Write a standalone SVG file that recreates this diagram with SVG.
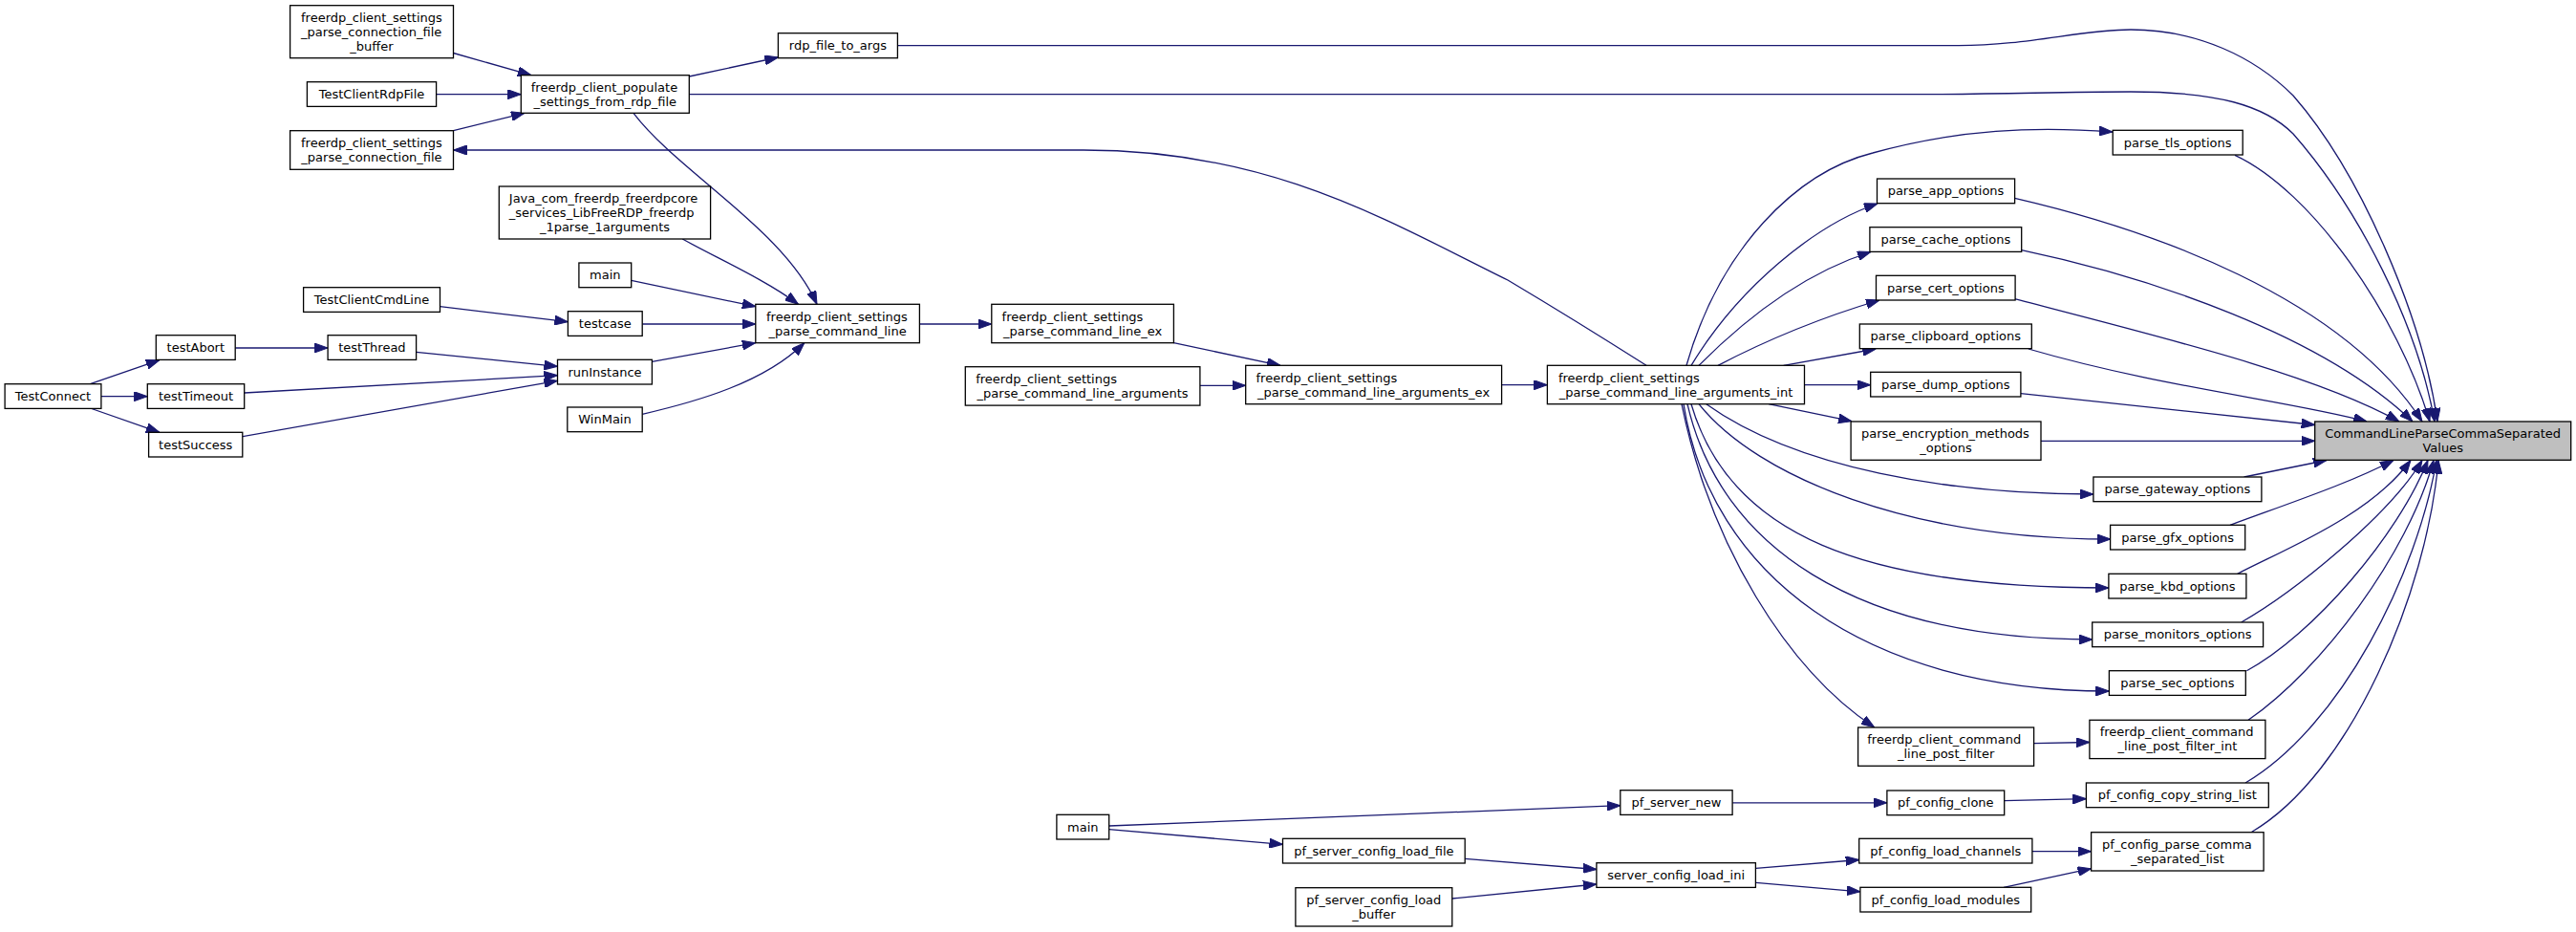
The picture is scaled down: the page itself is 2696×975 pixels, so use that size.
<svg xmlns="http://www.w3.org/2000/svg" width="2696" height="975" viewBox="0 0 2696 975">
<style>
.node rect{fill:#fff;stroke:#000;stroke-width:1.3}
.node.hl rect{fill:#bfbfbf}
.node text{font-family:"DejaVu Sans",sans-serif;font-size:13px;fill:#000}
.node text.c{text-anchor:middle}
.e path{fill:none;stroke:#191970;stroke-width:1.3;marker-end:url(#ah)}
</style>
<defs>
<marker id="ah" markerUnits="userSpaceOnUse" markerWidth="14" markerHeight="10" viewBox="0 0 14 10" refX="14" refY="5" orient="auto"><path d="M0,0L14,5L0,10z" fill="#191970" stroke="#191970" stroke-width="1"/></marker>
</defs>
<rect width="2696" height="975" fill="#fff"/>
<g class="e" id="connectors">
<path d="M474.5,55.5 L556,78.7"/>
<path d="M456.6,98.7 L545.3,98.7"/>
<path d="M474.5,136.7 L549,118.3"/>
<path d="M721.3,80 L814.4,60"/>
<path d="M721.3,98.7 L2000,98.7 C2100,98.7 2150,96 2230,96 C2320,96 2370,110 2400,140 C2470,220 2530,340 2548,441"/>
<path d="M939.4,47.7 L2050,47.7 C2120,47.7 2180,31 2230,31 C2300,31 2360,60 2400,100 C2470,180 2535,330 2551,441"/>
<path d="M1723,382.3 C1680,355 1620,318 1578,293 C1450,230 1330,157 1134,157 L474.5,157"/>
<path d="M663,118.3 C710,180 820,240 855,318.3"/>
<path d="M714.3,250 C750,270 800,292 835.5,318.3"/>
<path d="M660.7,293.3 L790.8,320.7"/>
<path d="M460.5,320.7 L594.4,336.7"/>
<path d="M672.2,339 L790.8,339"/>
<path d="M682.4,378.3 L790.8,358.7"/>
<path d="M672.2,433.3 C730,420 800,400 841.8,358.7"/>
<path d="M246.2,364 L343.1,364"/>
<path d="M435.6,368.3 L583.5,383.3"/>
<path d="M94.4,401.7 L167,376.7"/>
<path d="M105.9,414.7 L154.3,414.7"/>
<path d="M94.4,427 L167,452.3"/>
<path d="M255.7,411 L583.5,392.7"/>
<path d="M253.8,456.7 L583.5,398.3"/>
<path d="M962.4,339 L1037.8,339"/>
<path d="M1228.4,358.7 L1340,382.3"/>
<path d="M1255.9,403.3 L1303.7,403.3"/>
<path d="M1571.6,402.7 L1619.4,402.7"/>
<path d="M1765,382.3 C1800,260 1880,180 1960,160 C2050,135 2130,132 2211,138"/>
<path d="M1770,382.3 C1820,300 1900,235 1965,213"/>
<path d="M1778,382.3 C1830,330 1890,285 1958,263.5"/>
<path d="M1798,382.3 C1860,350 1920,328 1967,314"/>
<path d="M1866.7,382.3 L1963.3,365"/>
<path d="M1889,402.7 L1957.7,402.7"/>
<path d="M1851,422.7 L1938,440.7"/>
<path d="M1785.8,422.7 C1880,490 2040,517 2191,517"/>
<path d="M1778,422.7 C1840,500 2000,564 2209,564"/>
<path d="M1770,422.7 C1810,560 1950,615 2207,615"/>
<path d="M1766,422.7 C1800,570 1940,669 2190,669"/>
<path d="M1762,422.7 C1790,600 1950,723 2207.4,723"/>
<path d="M1760,422.7 C1790,570 1870,700 1961.8,761"/>
<path d="M2339,162.3 C2420,200 2510,330 2543,441"/>
<path d="M2108.6,207.3 C2250,240 2450,310 2535,441"/>
<path d="M2115.7,261.7 C2250,290 2430,350 2525,441"/>
<path d="M2108.6,312.7 C2250,350 2420,390 2511,441"/>
<path d="M2122.9,365 C2260,405 2400,420 2477,441"/>
<path d="M2114.9,411.7 L2422.7,444.5"/>
<path d="M2136,461.3 L2422.7,461.3"/>
<path d="M2348.6,499 L2435,481.5"/>
<path d="M2334,549.3 C2400,525 2460,505 2505,481.5"/>
<path d="M2341.7,600.3 C2390,575 2480,540 2523,481.5"/>
<path d="M2345.7,651 C2400,620 2500,540 2535,481.5"/>
<path d="M2351.4,701.7 C2420,665 2510,560 2541,481.5"/>
<path d="M2353,753.3 C2430,700 2520,580 2547,481.5"/>
<path d="M2350,819 C2450,760 2530,600 2550,481.5"/>
<path d="M2356,870.7 C2460,810 2540,620 2552,481.5"/>
<path d="M2128.6,777.7 L2186.9,776.5"/>
<path d="M1160.7,864 L1695.8,842.7"/>
<path d="M1160.7,867.7 L1342.5,883.3"/>
<path d="M1813.1,839.8 L1974.9,839.8"/>
<path d="M2097.7,837.7 L2183.4,835.7"/>
<path d="M1533.2,898.3 L1670.9,909.5"/>
<path d="M1519.8,940 L1670.9,925"/>
<path d="M1837.7,908.3 L1945.7,899.5"/>
<path d="M1837.7,923.3 L1946.9,932.8"/>
<path d="M2126.9,890.7 L2188.6,890.7"/>
<path d="M2097,928.3 L2188.6,908.7"/>
</g>
<g class="node" id="n_buf"><rect x="303.6" y="5.7" width="170.9" height="55"/><text x="315" y="22.7">freerdp_client_settings</text><text x="315" y="37.7">_parse_connection_file</text><text class="c" x="389" y="52.7">_buffer</text></g>
<g class="node" id="n_rdpfile"><rect x="321.4" y="85.7" width="135.2" height="25.7"/><text class="c" x="389" y="103">TestClientRdpFile</text></g>
<g class="node" id="n_pcf"><rect x="303.6" y="136.7" width="170.9" height="40.6"/><text x="315" y="154">freerdp_client_settings</text><text class="c" x="389" y="169">_parse_connection_file</text></g>
<g class="node" id="n_populate"><rect x="545.3" y="78.7" width="176" height="39.6"/><text x="555.8" y="95.5">freerdp_client_populate</text><text class="c" x="633.3" y="110.5">_settings_from_rdp_file</text></g>
<g class="node" id="n_rdp2args"><rect x="814.4" y="34.7" width="125" height="26"/><text class="c" x="876.9" y="52.2">rdp_file_to_args</text></g>
<g class="node" id="n_java"><rect x="522.3" y="195" width="221.3" height="55"/><text x="532.8" y="212">Java_com_freerdp_freerdpcore</text><text x="532.8" y="227">_services_LibFreeRDP_freerdp</text><text class="c" x="633" y="242">_1parse_1arguments</text></g>
<g class="node" id="n_main1"><rect x="605.9" y="275" width="54.8" height="25.7"/><text class="c" x="633.3" y="292.3">main</text></g>
<g class="node" id="n_tccl"><rect x="317.6" y="300.7" width="142.9" height="25.7"/><text class="c" x="389" y="318">TestClientCmdLine</text></g>
<g class="node" id="n_testcase"><rect x="594.4" y="325.7" width="77.8" height="25.7"/><text class="c" x="633.3" y="343">testcase</text></g>
<g class="node" id="n_pcl"><rect x="790.8" y="318.3" width="171.6" height="40.4"/><text x="802" y="335.5">freerdp_client_settings</text><text class="c" x="876.6" y="350.5">_parse_command_line</text></g>
<g class="node" id="n_testAbort"><rect x="163.3" y="350.7" width="82.9" height="25.7"/><text class="c" x="204.8" y="368">testAbort</text></g>
<g class="node" id="n_testThread"><rect x="343.1" y="350.7" width="92.5" height="25.7"/><text class="c" x="389.4" y="368">testThread</text></g>
<g class="node" id="n_runInstance"><rect x="583.5" y="376.3" width="98.9" height="25.7"/><text class="c" x="633" y="393.7">runInstance</text></g>
<g class="node" id="n_TestConnect"><rect x="5.1" y="401.7" width="100.8" height="25.7"/><text class="c" x="55.5" y="419">TestConnect</text></g>
<g class="node" id="n_testTimeout"><rect x="154.3" y="401.7" width="101.4" height="25.7"/><text class="c" x="205" y="419">testTimeout</text></g>
<g class="node" id="n_testSuccess"><rect x="155.6" y="452.3" width="98.2" height="25.7"/><text class="c" x="204.7" y="469.7">testSuccess</text></g>
<g class="node" id="n_WinMain"><rect x="593.8" y="426" width="78.4" height="25.7"/><text class="c" x="633" y="443.4">WinMain</text></g>
<g class="node" id="n_pclex"><rect x="1037.8" y="318.3" width="190.6" height="40.4"/><text x="1048.6" y="335.5">freerdp_client_settings</text><text class="c" x="1133.1" y="350.5">_parse_command_line_ex</text></g>
<g class="node" id="n_pcla"><rect x="1010.3" y="383.7" width="245.6" height="40.4"/><text x="1021.2" y="400.9">freerdp_client_settings</text><text class="c" x="1133.1" y="415.9">_parse_command_line_arguments</text></g>
<g class="node" id="n_argsex"><rect x="1303.7" y="382.3" width="267.9" height="40.4"/><text x="1314.5" y="399.5">freerdp_client_settings</text><text class="c" x="1437.6" y="414.5">_parse_command_line_arguments_ex</text></g>
<g class="node" id="n_argsint"><rect x="1619.4" y="382.3" width="269.1" height="40.4"/><text x="1630.9" y="399.5">freerdp_client_settings</text><text class="c" x="1754" y="414.5">_parse_command_line_arguments_int</text></g>
<g class="node" id="n_tls"><rect x="2211.2" y="136.3" width="136" height="25.7"/><text class="c" x="2279.2" y="153.7">parse_tls_options</text></g>
<g class="node" id="n_app"><rect x="1964.5" y="187" width="144.1" height="25.7"/><text class="c" x="2036.5" y="204.3">parse_app_options</text></g>
<g class="node" id="n_cache"><rect x="1956.9" y="237.7" width="158.8" height="25.7"/><text class="c" x="2036.3" y="255">parse_cache_options</text></g>
<g class="node" id="n_cert"><rect x="1963.5" y="288.3" width="145.6" height="25.7"/><text class="c" x="2036.3" y="305.6">parse_cert_options</text></g>
<g class="node" id="n_clip"><rect x="1946.3" y="339" width="180" height="25.7"/><text class="c" x="2036.3" y="356.3">parse_clipboard_options</text></g>
<g class="node" id="n_dump"><rect x="1957.7" y="389.3" width="157.2" height="25.7"/><text class="c" x="2036.3" y="406.6">parse_dump_options</text></g>
<g class="node" id="n_enc"><rect x="1937.1" y="441" width="198.9" height="40.3"/><text x="1948" y="458.1">parse_encryption_methods</text><text class="c" x="2036.5" y="473.1">_options</text></g>
<g class="node hl" id="n_clpcsv"><rect x="2422.7" y="441" width="268" height="40.3"/><text x="2433.3" y="458.1">CommandLineParseCommaSeparated</text><text class="c" x="2556.7" y="473.1">Values</text></g>
<g class="node" id="n_gateway"><rect x="2190.9" y="499" width="176" height="25.7"/><text class="c" x="2278.9" y="516.3">parse_gateway_options</text></g>
<g class="node" id="n_gfx"><rect x="2208.6" y="549.3" width="141.1" height="25.7"/><text class="c" x="2279.1" y="566.6">parse_gfx_options</text></g>
<g class="node" id="n_kbd"><rect x="2206.9" y="600.3" width="144" height="25.7"/><text class="c" x="2278.9" y="617.6">parse_kbd_options</text></g>
<g class="node" id="n_monitors"><rect x="2189.7" y="651" width="178.9" height="25.7"/><text class="c" x="2279.1" y="668.3">parse_monitors_options</text></g>
<g class="node" id="n_sec"><rect x="2207.4" y="701.7" width="142.9" height="25.7"/><text class="c" x="2278.9" y="719">parse_sec_options</text></g>
<g class="node" id="n_pf"><rect x="1944.6" y="761" width="184" height="40.3"/><text x="1954.3" y="778.1">freerdp_client_command</text><text class="c" x="2036.6" y="793.1">_line_post_filter</text></g>
<g class="node" id="n_pfint"><rect x="2186.9" y="753.3" width="184" height="40.3"/><text x="2197.7" y="770.4">freerdp_client_command</text><text class="c" x="2278.9" y="785.4">_line_post_filter_int</text></g>
<g class="node" id="n_clone"><rect x="1974.9" y="827" width="122.8" height="25.7"/><text class="c" x="2036.3" y="844.3">pf_config_clone</text></g>
<g class="node" id="n_copy"><rect x="2183.4" y="819" width="190.9" height="25.7"/><text class="c" x="2278.9" y="836.3">pf_config_copy_string_list</text></g>
<g class="node" id="n_channels"><rect x="1945.7" y="877.3" width="181.2" height="25.7"/><text class="c" x="2036.3" y="894.6">pf_config_load_channels</text></g>
<g class="node" id="n_pcs"><rect x="2188.6" y="870.7" width="180.5" height="40.3"/><text x="2200" y="887.8">pf_config_parse_comma</text><text class="c" x="2278.9" y="902.8">_separated_list</text></g>
<g class="node" id="n_modules"><rect x="1946.9" y="928.3" width="178.8" height="25.7"/><text class="c" x="2036.3" y="945.6">pf_config_load_modules</text></g>
<g class="node" id="n_main2"><rect x="1105.9" y="852.3" width="54.8" height="25.7"/><text class="c" x="1133.3" y="869.6">main</text></g>
<g class="node" id="n_srvnew"><rect x="1695.8" y="826.7" width="117.3" height="25.7"/><text class="c" x="1754.5" y="844">pf_server_new</text></g>
<g class="node" id="n_loadfile"><rect x="1342.5" y="877.3" width="190.7" height="25.7"/><text class="c" x="1437.9" y="894.6">pf_server_config_load_file</text></g>
<g class="node" id="n_loadbuf"><rect x="1355.9" y="928.7" width="163.9" height="40.3"/><text x="1367.3" y="945.9">pf_server_config_load</text><text class="c" x="1437.9" y="960.9">_buffer</text></g>
<g class="node" id="n_ini"><rect x="1670.9" y="902.7" width="166.5" height="25.7"/><text class="c" x="1754.2" y="920">server_config_load_ini</text></g>
</svg>
